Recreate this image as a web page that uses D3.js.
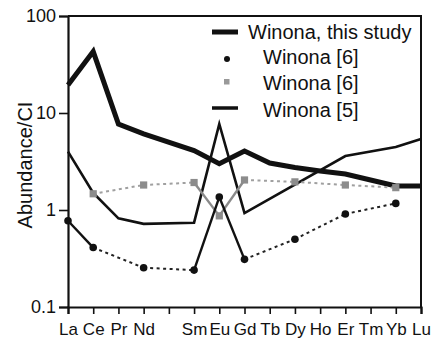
<!DOCTYPE html>
<html><head><meta charset="utf-8">
<script src="https://cdn.jsdelivr.net/npm/d3@7"></script>
<style>body{margin:0;background:#fff}svg{display:block}text{font-family:"Liberation Sans",Arial,sans-serif;fill:#111}</style>
</head><body><svg id="c" width="435" height="342"></svg>
<script>
const elements = ["La","Ce","Pr","Nd","Pm","Sm","Eu","Gd","Tb","Dy","Ho","Er","Tm","Yb","Lu"];
const tickLabels = ["La","Ce","Pr","Nd","","Sm","Eu","Gd","Tb","Dy","Ho","Er","Tm","Yb","Lu"];
const yTicks = [0.1, 1, 10, 100];
const thisStudy = [19.4, 43, 7.7, 6.1, null, 4.1, 3.0, 4.05, 3.05, 2.74, 2.52, 2.35, 2.04, 1.77, 1.77];
const winona6dots = [0.775, 0.41, null, 0.254, null, 0.24, 1.36, 0.31, null, 0.50, null, 0.91, null, 1.17, null];
const winona6squares = [null, 1.47, null, 1.81, null, 1.92, 0.87, 2.04, null, 1.95, null, 1.81, null, 1.70, null];
const winona5 = [4.0, 1.5, 0.82, 0.72, null, 0.74, 7.7, 0.93, null, null, null, 3.6, null, 4.46, 5.4];
const legendLabels = ["Winona, this study", "Winona [6]", "Winona [6]", "Winona [5]"];

const svg = d3.select("#c");
const L = 68, R = 421, T = 16, B = 307;
const x = d3.scaleLinear().domain([0, elements.length - 1]).range([L, R]);
const y = d3.scaleLog().domain([0.1, 100]).range([B, T]);

const pts = arr => arr.map((v, i) => ({i, v})).filter(d => d.v != null);
const line = d3.line().x(d => x(d.i)).y(d => y(d.v));

// frame
svg.append("path").attr("d", `M${L},${T}H${R}V${B}`).attr("fill", "none").attr("stroke", "#111").attr("stroke-width", 2);

// axes
const ya = svg.append("g").attr("transform", `translate(${L},0)`)
  .call(d3.axisLeft(y).tickValues(yTicks).tickFormat(d => d3.format("~g")(d)).tickSize(9).tickPadding(3));
ya.selectAll("text").style("font-size", "18px").attr("fill", "#111");
const xa = svg.append("g").attr("transform", `translate(0,${B})`)
  .call(d3.axisBottom(x).tickValues(d3.range(elements.length)).tickFormat(i => tickLabels[i]).tickSize(7).tickPadding(9));
xa.selectAll("text").style("font-size", "17px").attr("fill", "#111");
[ya, xa].forEach(g => {
  g.select(".domain").attr("stroke", "#111").attr("stroke-width", 2.2);
  g.selectAll(".tick line").attr("stroke", "#111").attr("stroke-width", 1.6);
});

svg.append("text").attr("transform", "translate(32,165) rotate(-90)").attr("text-anchor", "middle")
  .style("font-size", "20px").text("Abundance/CI");

// Winona [5] thin line
svg.append("path").attr("d", line(pts(winona5))).attr("fill", "none").attr("stroke", "#111").attr("stroke-width", 2.6).attr("stroke-linejoin", "miter");
// this study thick
svg.append("path").attr("d", line(pts(thisStudy))).attr("fill", "none").attr("stroke", "#111").attr("stroke-width", 5).attr("stroke-linejoin", "miter");

function segSeries(arr, solidColor, dotColor) {
  const p = pts(arr);
  const g = svg.append("g");
  for (let k = 1; k < p.length; k++) {
    const a = p[k - 1], b = p[k];
    const solid = b.i - a.i === 1;
    g.append("path").attr("d", line([a, b])).attr("fill", "none")
      .attr("stroke", solid ? solidColor : dotColor).attr("stroke-width", solid ? 2.4 : 2)
      .attr("stroke-dasharray", solid ? null : "3,3.5");
  }
  return {g, p};
}
// grey squares
const gs = segSeries(winona6squares, "#8a8a8a", "#a0a0a0");
gs.g.selectAll("rect.m").data(gs.p).join("rect").attr("class", "m")
  .attr("x", d => x(d.i) - 3.6).attr("y", d => y(d.v) - 3.6).attr("width", 7.2).attr("height", 7.2).attr("fill", "#8c8c8c");
// black dots
const bd = segSeries(winona6dots, "#111", "#222");
bd.g.selectAll("circle.m").data(bd.p).join("circle").attr("class", "m")
  .attr("cx", d => x(d.i)).attr("cy", d => y(d.v)).attr("r", 3.8).attr("fill", "#111");

// legend
const lg = svg.append("g");
const rowsY = [39, 64, 90, 117];
lg.append("line").attr("x1", 212).attr("x2", 238).attr("y1", 32).attr("y2", 32).attr("stroke", "#111").attr("stroke-width", 5);
lg.append("circle").attr("cx", 227).attr("cy", 59).attr("r", 3).attr("fill", "#111");
lg.append("rect").attr("x", 224).attr("y", 79).attr("width", 5.5).attr("height", 5.5).attr("fill", "#999");
lg.append("line").attr("x1", 212).attr("x2", 238).attr("y1", 108).attr("y2", 108).attr("stroke", "#111").attr("stroke-width", 3.5);
lg.selectAll("text").data(legendLabels).join("text")
  .attr("x", (d, i) => i === 0 ? 248 : 263).attr("y", (d, i) => rowsY[i])
  .style("font-size", "20px").text(d => d);
</script></body></html>
